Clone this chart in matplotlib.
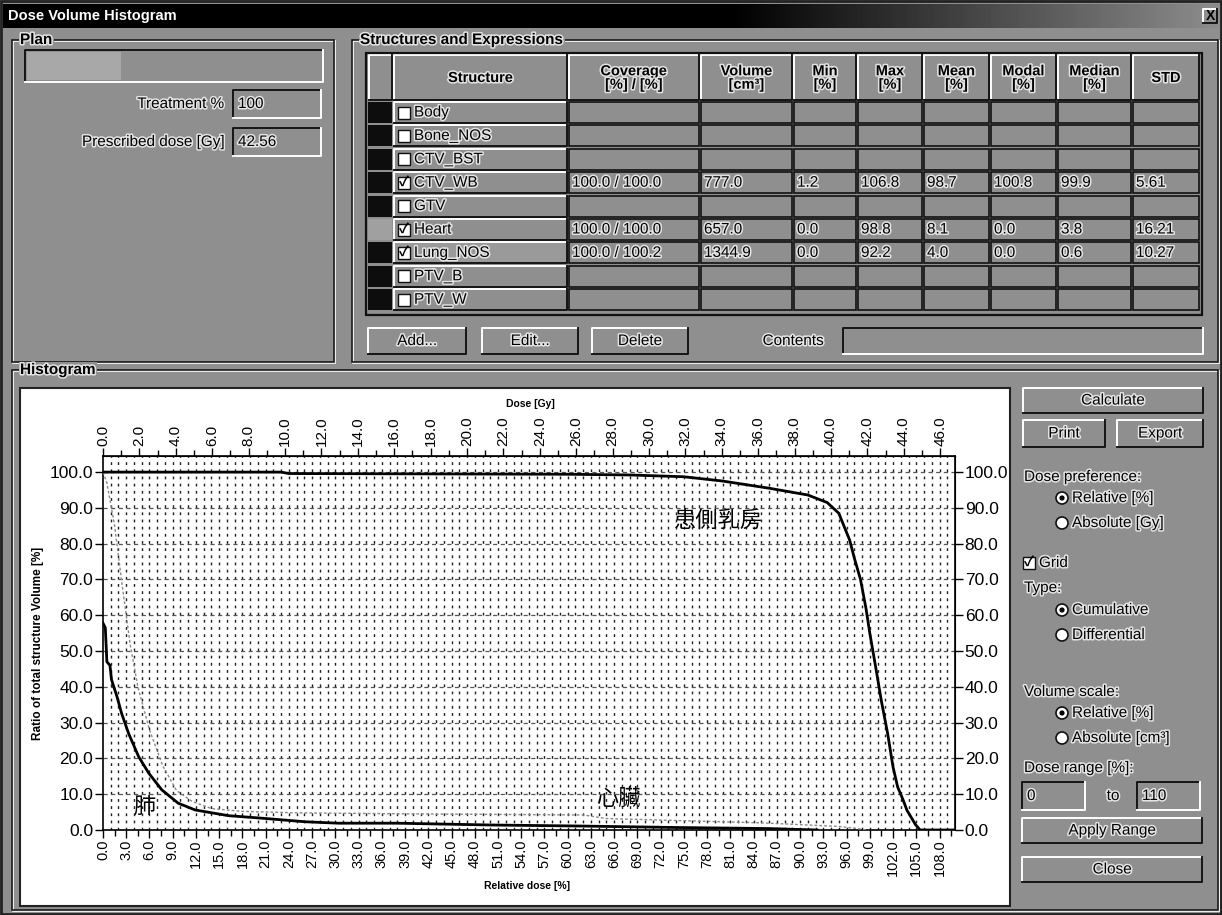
"""Dose Volume Histogram window: structure table plus cumulative DVH."""

import matplotlib

matplotlib.use("Agg")
import matplotlib.pyplot as plt
import numpy as np
from matplotlib import patheffects
from matplotlib.patches import Circle, Rectangle
from matplotlib.ticker import FormatStrFormatter

# ---------------------------------------------------------------- data
PRESCRIBED_DOSE_GY = 42.56
TREATMENT_PCT = "100"

STRUCTURES = ["Body", "Bone_NOS", "CTV_BST", "CTV_WB", "GTV", "Heart", "Lung_NOS", "PTV_B", "PTV_W"]
CHECKED = [False, False, False, True, False, True, True, False, False]
HEADERS = ["Structure", "Coverage\n[%] / [%]", "Volume\n[cm³]", "Min\n[%]", "Max\n[%]",
           "Mean\n[%]", "Modal\n[%]", "Median\n[%]", "STD"]
CTV_WB_STATS = ["100.0 / 100.0", "777.0", "1.2", "106.8", "98.7", "100.8", "99.9", "5.61"]
HEART_STATS = ["100.0 / 100.0", "657.0", "0.0", "98.8", "8.1", "0.0", "3.8", "16.21"]
LUNG_STATS = ["100.0 / 100.2", "1344.9", "0.0", "92.2", "4.0", "0.0", "0.6", "10.27"]

# cumulative DVH: relative dose [%] -> volume [%]
CTV_DOSE = [0, 23, 24, 60, 68, 75, 80, 86, 91, 93.5, 95, 96.4, 97, 97.8, 98.5, 99, 99.8,
            100.5, 101.3, 102, 102.6, 103.3, 103.8, 104.3, 104.9, 105.5, 110]
CTV_VOL = [100, 100, 99.6, 99.4, 99.2, 98.7, 97.5, 95.5, 93.6, 91.5, 88.5, 81, 76, 70, 62, 55, 45,
           36, 27, 17.6, 12, 8.4, 5.5, 3.7, 1.5, 0, 0]
LUNG_DOSE = [0, 0.3, 0.5, 0.9, 1.1, 1.8, 2.4, 3.3, 4.6, 5.9, 7.6, 9.7, 11.9, 16.2, 20.5,
             26.1, 30.4, 38, 50, 62, 74, 86, 92.2]
LUNG_VOL = [57.8, 56.5, 47, 46, 42, 37.3, 32.6, 27, 20.5, 15.9, 11.2, 7.5, 5.6, 4.0, 3.3,
            2.3, 1.9, 1.9, 1.4, 1.1, 0.7, 0.4, 0]
HEART_DOSE = [0, 0.5, 1.5, 2.5, 3.5, 4.5, 6, 7.7, 9.5, 11.5, 14, 18, 25, 40, 62, 65, 75, 85, 95, 98.8]
HEART_VOL = [100, 97, 85, 68, 52, 40, 28, 18, 11, 8, 6, 5.2, 4.8, 4.5, 4.2, 3.2, 2.6, 2.0, 1.0, 0]

REL_TICKS = np.arange(0, 109, 3)
GY_TICKS = np.arange(0, 47, 2)
VOL_TICKS = np.arange(0, 101, 10)

# ---------------------------------------------------------------- style
BG = "#8f8f8f"
plt.rcParams["font.family"] = ["Liberation Sans", "Noto Sans CJK TC", "DejaVu Sans"]
plt.rcParams["lines.scale_dashes"] = False
CJK = ["Noto Sans CJK TC", "DejaVu Sans"]
HALO = [patheffects.withStroke(linewidth=2.2, foreground="#e4e4e4")]


def rect(ax, x, y, w, h, face=BG, edge="none", lw=1.0, z=1):
    ax.add_patch(Rectangle((x, y), w, h, facecolor=face, edgecolor=edge, linewidth=lw, zorder=z))


def bevel(ax, x, y, w, h, raised=True, face=BG, z=2):
    rect(ax, x, y, w, h, face=face, z=z)
    light, dark = ("white", "#151515") if raised else ("#151515", "white")
    ax.plot([x, x, x + w], [y + h, y, y], color=light, lw=1.4, zorder=z + 0.1)
    ax.plot([x, x + w, x + w], [y + h, y + h, y], color=dark, lw=1.4, zorder=z + 0.1)


def label(ax, x, y, s, size=11, ha="left", weight="normal", z=5, halo=True):
    ax.text(x, y, s, fontsize=size, ha=ha, va="center", fontweight=weight, zorder=z,
            path_effects=HALO if halo else None)


def group(ax, x, y, w, h, title):
    ax.add_patch(Rectangle((x + 1, y + 1), w, h, fill=False, edgecolor="white", lw=1.2, zorder=1))
    ax.add_patch(Rectangle((x, y), w, h, fill=False, edgecolor="#1a1a1a", lw=1.2, zorder=1))
    ax.text(x + 8, y, title, fontsize=11, fontweight="bold", ha="left", va="center", zorder=5,
            path_effects=HALO, bbox=dict(facecolor=BG, edgecolor="none", pad=1))


def radio(ax, x, y, s, selected):
    ax.add_patch(Circle((x, y), 6, facecolor="white", edgecolor="#111", lw=1.2, zorder=4))
    if selected:
        ax.add_patch(Circle((x, y), 2.6, facecolor="black", zorder=5))
    label(ax, x + 10, y, s)


def checkbox(ax, x, y, checked):
    rect(ax, x, y - 6, 12, 12, face="white", edge="#111", lw=1.0, z=4)
    if checked:
        ax.text(x + 6, y, "✓", fontsize=10, fontweight="bold", ha="center", va="center", zorder=5)


fig = plt.figure(figsize=(12.22, 9.15), dpi=100, facecolor=BG)
bg = fig.add_axes([0, 0, 1, 1])
bg.set_facecolor(BG)

# title bar with gradient
t = np.linspace(0, 1, 400)
grad = np.clip((t - 0.6) / 0.4, 0, 1) * 0.55
bg.imshow(grad[None, :], extent=(3, 1219, 28, 4), cmap="gray", vmin=0, vmax=1, aspect="auto", zorder=1)
bg.text(8, 16, "Dose Volume Histogram", color="white", fontsize=10.5, fontweight="bold",
        ha="left", va="center", zorder=3)
bevel(bg, 1203, 9, 14, 14)
bg.text(1210, 16, "X", fontsize=10, fontweight="bold", ha="center", va="center", zorder=5)
bg.add_patch(Rectangle((1, 1), 1220, 913, fill=False, edgecolor="#222", lw=2, zorder=6))

# Plan group
group(bg, 12, 40, 322, 322, "Plan")
bevel(bg, 25, 50, 298, 32, raised=False)
rect(bg, 27, 52, 94, 28, face="#a8a8a8", z=3)
label(bg, 224, 104, "Treatment %", ha="right")
bevel(bg, 233, 90, 88, 28, raised=False)
label(bg, 238, 104, TREATMENT_PCT)
label(bg, 224, 142, "Prescribed dose [Gy]", ha="right")
bevel(bg, 233, 128, 88, 28, raised=False)
label(bg, 238, 142, f"{PRESCRIBED_DOSE_GY:.2f}")

# Structures table
group(bg, 352, 40, 866, 322, "Structures and Expressions")
edges = [368, 393, 568, 700, 793, 857, 923, 990, 1057, 1132, 1200]
bg.add_patch(Rectangle((366, 53), 836, 262, fill=False, edgecolor="#111", lw=1.6, zorder=3))
for j in range(len(edges) - 1):
    bevel(bg, edges[j] + 1, 55, edges[j + 1] - edges[j] - 2, 45)
    if j > 0:
        bg.text((edges[j] + edges[j + 1]) / 2, 78, HEADERS[j - 1], fontsize=10.5, fontweight="bold",
                ha="center", va="center", linespacing=0.95, zorder=5, path_effects=HALO)
stats = {"CTV_WB": CTV_WB_STATS, "Heart": HEART_STATS, "Lung_NOS": LUNG_STATS}
for i, name in enumerate(STRUCTURES):
    top = 102 + i * 23.4
    rect(bg, 368, top, 24, 21, face="#a0a0a0" if name == "Heart" else "#0d0d0d", z=2)
    bevel(bg, 394, top, 173, 21, face="#9a9a9a" if name == "Lung_NOS" else BG)
    checkbox(bg, 398, top + 10.5, CHECKED[i])
    label(bg, 414, top + 10.5, name)
    for j in range(2, len(edges) - 1):
        rect(bg, edges[j] + 1, top, edges[j + 1] - edges[j] - 2, 21, edge="#111", lw=1.2, z=2)
        if name in stats:
            label(bg, edges[j] + 4, top + 10.5, stats[name][j - 2])

for x, w, s in [(368, 98, "Add..."), (482, 96, "Edit..."), (592, 96, "Delete")]:
    bevel(bg, x, 328, w, 26)
    label(bg, x + w / 2, 341, s, ha="center")
label(bg, 793, 341, "Contents", ha="center")
bevel(bg, 843, 328, 360, 26, raised=False)

# Histogram group and side controls
group(bg, 12, 370, 1206, 540, "Histogram")
bg.add_patch(Rectangle((20, 388), 990, 518, facecolor="white", edgecolor="#222", lw=1.5, zorder=2))
for x, y, w, h, s in [(1023, 388, 180, 25, "Calculate"), (1023, 420, 82, 27, "Print"),
                      (1117, 420, 86, 27, "Export"), (1022, 818, 180, 25, "Apply Range"),
                      (1022, 857, 180, 25, "Close")]:
    bevel(bg, x, y, w, h)
    label(bg, x + w / 2, y + h / 2, s, ha="center")
label(bg, 1024, 477, "Dose preference:")
radio(bg, 1062, 498, "Relative [%]", True)
radio(bg, 1062, 523, "Absolute [Gy]", False)
checkbox(bg, 1023, 563, True)
label(bg, 1039, 563, "Grid")
label(bg, 1024, 588, "Type:")
radio(bg, 1062, 610, "Cumulative", True)
radio(bg, 1062, 635, "Differential", False)
label(bg, 1024, 692, "Volume scale:")
radio(bg, 1062, 713, "Relative [%]", True)
radio(bg, 1062, 738, "Absolute [cm³]", False)
label(bg, 1024, 768, "Dose range [%]:")
bevel(bg, 1022, 782, 63, 28, raised=False)
label(bg, 1027, 796, "0")
label(bg, 1113, 796, "to", ha="center")
bevel(bg, 1137, 782, 63, 28, raised=False)
label(bg, 1142, 796, "110")

bg.text(530, 404, "Dose [Gy]", fontsize=7.5, fontweight="bold", ha="center", va="center", zorder=5)
bg.text(527, 886, "Relative dose [%]", fontsize=7.5, fontweight="bold", ha="center", va="center", zorder=5)
bg.text(38, 643, "Ratio of total structure Volume [%]", fontsize=8.5, fontweight="bold",
        rotation=90, ha="center", va="center", zorder=5)
bg.set_xlim(0, 1222)
bg.set_ylim(915, 0)
bg.axis("off")

# ---------------------------------------------------------------- DVH plot
ax = fig.add_axes([103 / 1222, 85 / 915, 852 / 1222, 374 / 915])
ax.set_facecolor("white")
ax.set_xlim(0, 110)
ax.set_ylim(0, 104.5)

# dot-matrix grid: short dashes every 1 % of dose, rows every 2 % volume
ax.vlines(np.arange(1, 110), 0, 104.5, colors="#1e1e1e", linewidth=1.0,
          linestyles=[(0, (2.0, 3.16))], zorder=1)
ax.hlines(VOL_TICKS[1:], 0, 110, colors="#555", linewidth=0.9, linestyles=[(0, (3, 2.5))], zorder=1)

ax.plot(HEART_DOSE, HEART_VOL, color="#8a8a8a", lw=1.0, ls=(0, (2, 1.5)), zorder=3)
ax.plot(LUNG_DOSE, LUNG_VOL, color="black", lw=2.0, zorder=4)
ax.plot(CTV_DOSE, CTV_VOL, color="black", lw=2.0, zorder=4)

ax.text(5.4, 6.6, "肺", fontsize=16, family=CJK, ha="center", va="center", zorder=5)
ax.text(79.4, 86.6, "患側乳房", fontsize=16, family=CJK, ha="center", va="center", zorder=5)
ax.text(66.5, 8.6, "心臟", fontsize=16, family=CJK, ha="center", va="center", zorder=5)

fmt = FormatStrFormatter("%.1f")
ax.set_xticks(REL_TICKS)
ax.set_xticks(np.arange(0, 110, 1.5), minor=True)
ax.xaxis.set_major_formatter(fmt)
ax.set_yticks(VOL_TICKS)
ax.yaxis.set_major_formatter(fmt)
ax.tick_params(axis="x", which="major", labelrotation=90, labelsize=10.5, length=6, width=1, pad=1)
ax.tick_params(axis="y", which="major", labelsize=12.5, length=6, width=1, pad=1)
ax.tick_params(which="minor", length=4, width=1)
for sp in ax.spines.values():
    sp.set_linewidth(1.2)

top_ax = ax.secondary_xaxis("top", functions=(lambda r: r * PRESCRIBED_DOSE_GY / 100,
                                              lambda g: g * 100 / PRESCRIBED_DOSE_GY))
top_ax.set_xticks(GY_TICKS)
top_ax.set_xticks(np.arange(0, 47, 1), minor=True)
top_ax.xaxis.set_major_formatter(fmt)
top_ax.tick_params(which="major", labelrotation=90, labelsize=11, length=6, width=1, pad=1)
top_ax.tick_params(which="minor", length=4, width=1)

right_ax = ax.secondary_yaxis("right")
right_ax.set_yticks(VOL_TICKS)
right_ax.yaxis.set_major_formatter(fmt)
right_ax.tick_params(labelsize=12.5, length=6, width=1, pad=1)

fig.savefig("out.png", dpi=100, facecolor=fig.get_facecolor())
